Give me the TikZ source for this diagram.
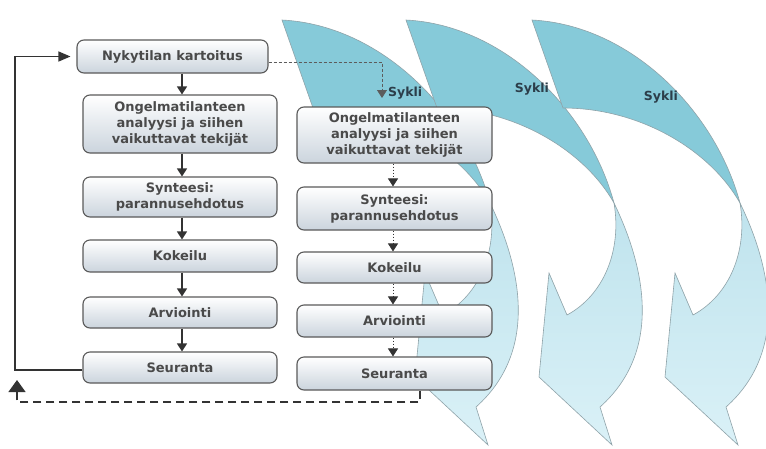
\documentclass[tikz,border=0pt]{standalone}
\usepackage{fontspec}
\setmainfont{DejaVu Sans}
\usetikzlibrary{arrows.meta}
\definecolor{tealtop}{HTML}{86CAD9}
\definecolor{lightA}{HTML}{BFE3ED}
\definecolor{lightB}{HTML}{DAF1F7}
\definecolor{shapeedge}{HTML}{8FA3A9}
\definecolor{boxedge}{HTML}{5A5A5A}
\definecolor{boxbot}{HTML}{CBD4DD}
\definecolor{boxtext}{HTML}{4A4A4A}
\definecolor{sytext}{HTML}{2C3E4A}
\definecolor{conncol}{HTML}{333333}
\newcommand\cycleshape{%
  \path[draw=shapeedge, line width=0.6pt, top color=lightA, bottom color=lightB]
    (740,203) .. controls (770,265) and (790,350) .. (726,407)
    -- (738,445) -- (665,377) -- (675,273) -- (693,315)
    .. controls (730,295) and (748,250) .. (740,203) -- cycle;
  \path[draw=shapeedge, line width=0.6pt, fill=tealtop]
    (532,20) .. controls (630,25) and (715,110) .. (740,203)
    .. controls (710,150) and (640,108) .. (563,108) -- cycle;
}
\begin{document}
\begin{tikzpicture}[x=1pt,y=-1pt,
  box/.style={draw=boxedge, line width=1.1pt, rounded corners=7pt,
    top color=white, bottom color=boxbot, align=center, inner sep=0pt,
    font=\bfseries\fontsize{13}{16}\selectfont, text=boxtext},
  colA/.style={box, minimum width=194pt},
  colB/.style={box, minimum width=195pt},
  conn/.style={draw=conncol, line width=1.3pt, -{Triangle[width=10pt,length=8pt]}},
  dconn/.style={draw=conncol, line width=0.9pt, dash pattern=on 1.5pt off 1.5pt,
    -{Triangle[width=10pt,length=8pt]}},
  loopline/.style={draw=conncol, line width=1.3pt},
  dashloop/.style={draw=conncol, line width=1.3pt, dash pattern=on 8pt off 5pt},
  sykli/.style={font=\bfseries\fontsize{12.5}{14}\selectfont, text=sytext, inner sep=0pt}
]
\useasboundingbox (0,0) rectangle (766,448);
\fill[white] (0,0) rectangle (766,448);
\begin{scope}
  \clip (0,0) rectangle (766,448);
  \begin{scope}[xshift=-250pt]\cycleshape\end{scope}
  \begin{scope}[xshift=-126pt]\cycleshape\end{scope}
  \cycleshape
\end{scope}

% left column
\node[box, minimum width=191pt, minimum height=33pt] (b1) at (172.5,56.5) {Nykytilan kartoitus};
\node[colA, minimum height=58pt] (b2) at (180,124) {Ongelmatilanteen\\analyysi ja siihen\\vaikuttavat tekijät};
\node[colA, minimum height=40pt] (b3) at (180,197) {Synteesi:\\parannusehdotus};
\node[colA, minimum height=32pt] (b4) at (180,256) {Kokeilu};
\node[colA, minimum height=31pt] (b5) at (180,312.5) {Arviointi};
\node[colA, minimum height=31pt] (b6) at (180,367.5) {Seuranta};

% right column
\node[colB, minimum height=56pt] (c2) at (394.5,135) {Ongelmatilanteen\\analyysi ja siihen\\vaikuttavat tekijät};
\node[colB, minimum height=43pt] (c3) at (394.5,208.5) {Synteesi:\\parannusehdotus};
\node[colB, minimum height=31pt] (c4) at (394.5,267.5) {Kokeilu};
\node[colB, minimum height=32pt] (c5) at (394.5,321) {Arviointi};
\node[colB, minimum height=33pt] (c6) at (394.5,373.5) {Seuranta};

\coordinate (ax) at (182,0);
\coordinate (bx) at (393,0);
\foreach \a/\b in {b1/b2,b2/b3,b3/b4,b4/b5,b5/b6}
  \draw[conn] (\a.south -| ax) -- (\b.north -| ax);
\foreach \a/\b in {c2/c3,c3/c4,c4/c5,c5/c6}
  \draw[dconn] (\a.south -| bx) -- (\b.north -| bx);

% solid feedback loop
\coordinate (l1) at (15,370);
\draw[loopline, -{Triangle[width=10pt,length=12pt]}, shorten >=6pt]
  (b6.west |- l1) -- (l1) |- (b1.west);

% dashed feedback loop
\coordinate (d1) at (420,402);
\coordinate (d2) at (17,402);
\coordinate (d3) at (17,380);
\draw[dashloop, -{Triangle[width=17pt,length=12pt]}]
  (c6.south -| d1) -- (d1) -- (d2) -- (d3);

% top dashed link
\coordinate (t1) at (382,62);
\draw[draw=conncol!80, line width=0.9pt, dash pattern=on 3pt off 2pt,
  -{Triangle[width=10pt,length=8pt]}]
  (b1.east |- t1) -- (t1) -- (t1 |- 0,98);
\node[sykli, anchor=west] (s1) at (388,93) {Sykli};
\node[sykli] (s2) at (532,89) {Sykli};
\node[sykli] (s3) at (661,97) {Sykli};
\end{tikzpicture}
\end{document}
